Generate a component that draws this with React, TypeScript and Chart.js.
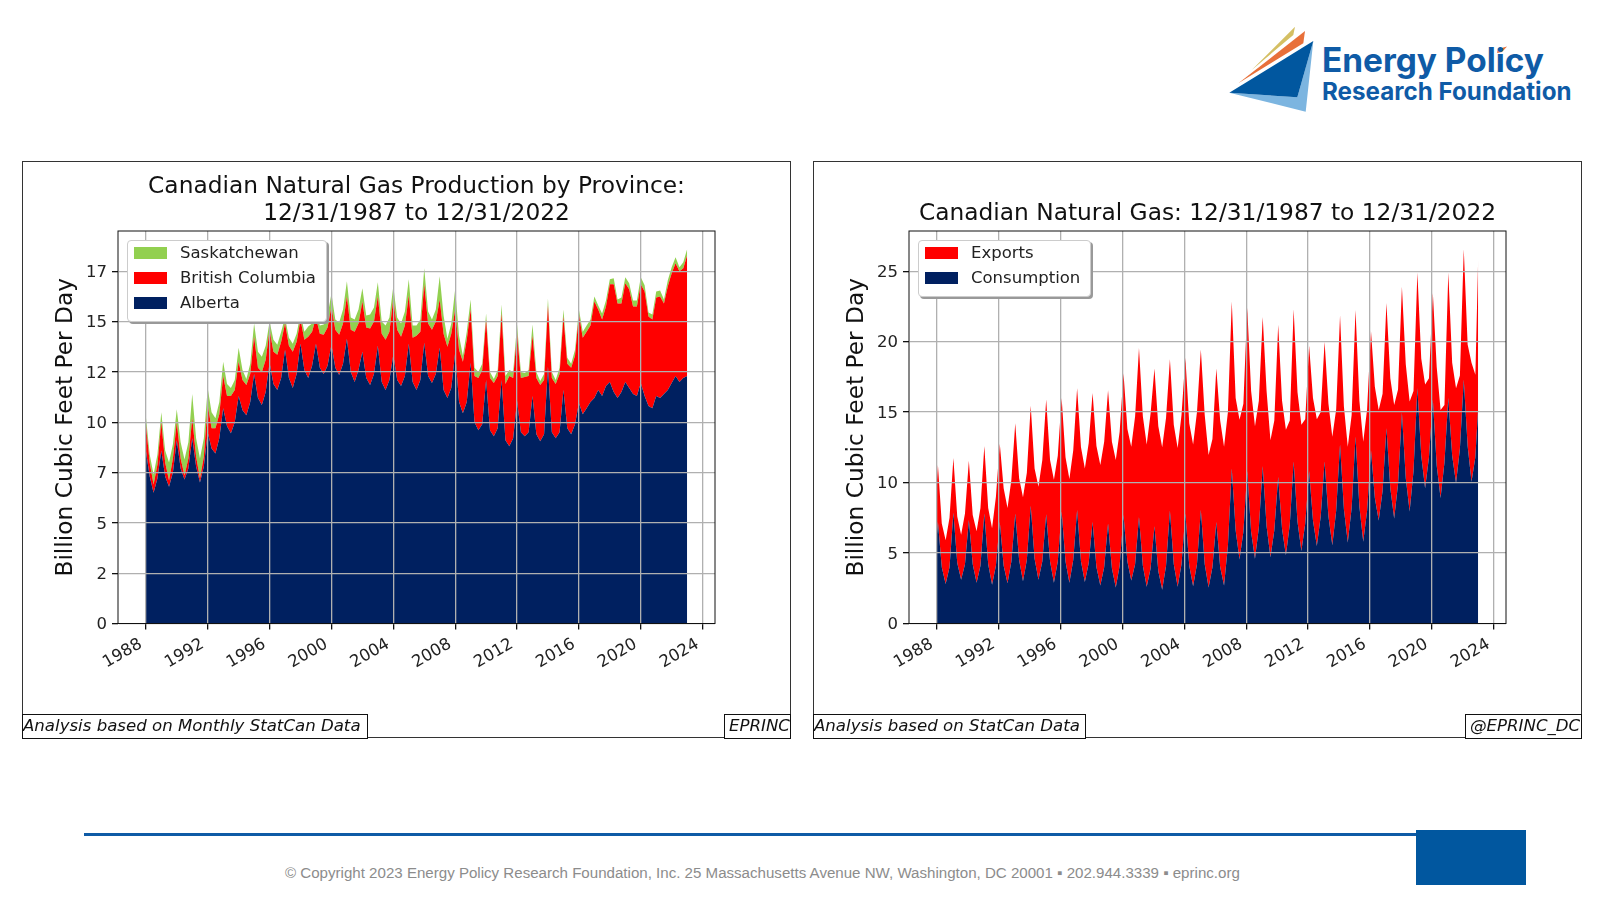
import { useEffect, useRef } from 'react';
import { Chart, registerables } from 'chart.js';

Chart.register(...registerables);

// quarterly readings, Jan / Apr / Jul / Oct, last value is Jan 2023
const quarters = Array.from({ length: 141 }, (_, i) => 1988 + i / 4);
// the gas panel's winter peaks sit a little after the year mark, and it opens at 1988.0
const gasQuarters = [1988, ...quarters.map((q) => Math.min(q + 0.07, 2023))];

const alberta = [
  8.6, 7.3, 6.5, 7.2, 8.6, 7.3, 6.8, 7.5, 9.1, 7.7, 7.15, 7.7, 9.2, 7.8, 7.0, 7.8,
  9.5, 8.7, 8.45, 9.2, 10.7, 9.8, 9.45, 10.0, 11.3, 10.6, 10.35, 11.0, 12.4, 11.2, 10.85, 11.5,
  12.95, 11.9, 11.6, 12.2, 13.6, 12.2, 11.7, 12.4, 13.9, 12.6, 12.2, 12.8, 13.9, 12.7, 12.4, 12.8,
  13.85, 12.7, 12.35, 12.9, 14.15, 12.5, 12.0, 12.6, 13.5, 12.2, 11.85, 12.4, 13.8, 12.0, 11.6, 12.1,
  13.35, 12.1, 11.8, 12.3, 13.9, 12.0, 11.6, 12.1, 13.95, 12.3, 11.95, 12.4, 13.7, 11.6, 11.2, 11.7,
  13.45, 11.0, 10.45, 11.0, 12.95, 10.0, 9.6, 9.9, 12.1, 9.6, 9.3, 9.7, 12.1, 9.1, 8.8, 9.2,
  11.05, 9.5, 9.3, 9.5, 11.3, 9.4, 9.05, 9.4, 12.75, 9.5, 9.2, 9.5, 11.6, 9.7, 9.4, 9.9,
  10.95, 10.4, 10.7, 11.0, 11.2, 11.6, 11.3, 11.8, 12.0, 11.5, 11.2, 11.5, 12.0, 11.7, 11.4, 11.3,
  11.95, 11.3, 10.8, 10.7, 11.3, 11.2, 11.4, 11.6, 11.95, 12.3, 12.0, 12.2, 12.3,
];
const britishColumbia = [
  1.3, 0.7, 0.4, 0.7, 1.4, 0.7, 0.3, 0.7, 0.9, 0.5, 0.2, 0.5, 1.0, 0.5, 0.2, 0.5,
  1.35, 1.0, 1.25, 1.2, 1.6, 1.5, 1.85, 1.6, 1.7, 1.5, 1.5, 1.4, 1.85, 1.5, 1.65, 1.6,
  1.65, 1.6, 1.75, 1.8, 1.3, 1.6, 1.8, 1.6, 1.2, 1.5, 2.05, 1.7, 1.3, 1.7, 1.95, 1.9,
  1.9, 1.9, 2.0, 2.0, 2.1, 2.1, 2.5, 2.3, 2.5, 2.5, 2.8, 2.6, 2.45, 2.4, 2.5, 2.4,
  2.8, 2.5, 2.45, 2.5, 2.4, 2.2, 2.7, 2.4, 2.9, 2.6, 2.65, 2.6, 2.4, 2.8, 2.55, 2.7,
  2.15, 2.6, 2.55, 3.1, 2.65, 2.3, 2.6, 2.7, 3.0, 2.6, 2.65, 2.6, 3.3, 2.8, 3.5, 3.0,
  3.35, 2.7, 2.95, 2.8, 3.0, 2.8, 2.8, 2.7, 3.05, 2.7, 2.7, 2.9, 3.65, 3.2, 3.3, 3.4,
  4.4, 3.8, 3.8, 3.8, 4.8, 4.0, 3.8, 3.95, 4.85, 5.35, 4.7, 4.4, 4.9, 4.9, 4.35, 4.45,
  4.9, 5.2, 4.45, 4.4, 4.9, 5.05, 4.5, 5.15, 5.45, 5.6, 5.5, 5.45, 6.0,
];
const saskatchewan = [
  0.4, 0.4, 0.5, 0.5, 0.5, 0.6, 0.9, 0.7, 0.65, 0.8, 0.8, 0.8, 1.2, 0.9, 1.0, 0.9,
  0.85, 0.8, 0.5, 0.6, 0.7, 0.6, 0.4, 0.5, 0.7, 0.5, 0.3, 0.5, 0.65, 0.8, 0.75, 0.7,
  0.4, 0.6, 0.5, 0.5, 0.3, 0.4, 0.4, 0.4, 0.3, 0.4, 0.5, 0.4, 0.3, 0.4, 0.5, 0.6,
  0.65, 0.5, 0.6, 0.7, 0.75, 0.6, 0.6, 0.7, 0.65, 0.6, 0.7, 0.7, 0.7, 0.6, 0.7, 0.7,
  0.6, 0.6, 0.65, 0.7, 0.8, 0.6, 0.5, 0.6, 0.8, 0.6, 0.5, 0.6, 1.15, 0.9, 0.4, 0.5,
  1.0, 0.7, 0.3, 0.4, 0.5, 0.4, 0.3, 0.3, 0.3, 0.3, 0.2, 0.3, 0.45, 0.4, 0.3, 0.3,
  0.45, 0.3, 0.2, 0.3, 0.55, 0.3, 0.2, 0.3, 0.35, 0.3, 0.2, 0.3, 0.35, 0.3, 0.2, 0.3,
  0.25, 0.3, 0.3, 0.3, 0.25, 0.2, 0.3, 0.3, 0.25, 0.3, 0.2, 0.3, 0.3, 0.3, 0.3, 0.3,
  0.35, 0.3, 0.2, 0.25, 0.3, 0.3, 0.2, 0.3, 0.3, 0.3, 0.2, 0.3, 0.3,
];

const consumption = [
  6.2, 7.2, 4.0, 2.8, 4.0, 7.85, 4.3, 3.1, 4.2, 7.35, 4.2, 2.9, 4.1, 7.8, 4.2, 2.75, 4.1,
  7.2, 4.1, 2.85, 4.4, 7.8, 4.5, 3.0, 4.5, 8.35, 4.6, 3.1, 4.4, 7.75, 4.4, 2.9, 4.4,
  7.95, 4.4, 2.9, 4.5, 8.05, 4.4, 2.95, 4.3, 7.2, 4.0, 2.7, 4.0, 7.1, 3.9, 2.55, 4.1,
  7.7, 4.4, 3.05, 4.2, 7.55, 4.1, 2.6, 3.9, 6.9, 3.7, 2.4, 4.1, 8.0, 4.2, 2.6, 4.2,
  7.8, 4.1, 2.65, 4.2, 8.05, 4.2, 2.55, 4.0, 7.2, 4.0, 2.7, 5.5, 11.0, 6.6, 4.55, 6.5,
  10.8, 6.5, 4.6, 6.8, 11.15, 6.9, 4.7, 6.6, 10.4, 6.7, 4.85, 7.0, 11.5, 7.2, 5.15, 7.1,
  10.8, 7.3, 5.5, 7.6, 11.5, 7.6, 5.55, 8.0, 12.7, 8.1, 5.75, 8.2, 13.25, 8.3, 5.8, 8.0,
  12.3, 8.9, 7.3, 9.4, 13.85, 9.6, 7.45, 9.9, 14.95, 10.3, 7.95, 10.8, 16.7, 11.9, 9.6, 11.8,
  15.9, 11.2, 8.9, 11.4, 16.0, 11.9, 9.95, 12.4, 17.3, 12.6, 10.05, 11.8, 15.3,
];
const exportsGas = [
  3.8, 4.05, 3.1, 3.1, 3.5, 3.9, 3.3, 3.2, 3.6, 4.2, 3.5, 3.65, 4.1, 4.8, 4.0, 4.0, 4.9,
  5.55, 5.5, 5.35, 5.8, 6.4, 5.8, 5.95, 6.2, 7.1, 6.4, 6.6, 7.2, 8.15, 7.2, 7.3, 7.5,
  8.05, 7.4, 7.35, 7.8, 8.65, 8.1, 8.05, 8.5, 9.15, 8.6, 8.55, 8.9, 9.45, 9.0, 9.05, 9.5,
  10.05, 9.4, 9.5, 10.5, 12.0, 10.6, 10.1, 11.0, 11.2, 10.3, 10.1, 10.5, 10.75, 9.9, 9.85, 10.6,
  11.05, 10.1, 10.05, 10.8, 11.4, 10.6, 9.4, 9.1, 10.9, 10.4, 9.85, 9.5, 11.85, 9.4, 9.9, 9.1,
  11.6, 10.0, 9.4, 9.0, 10.6, 9.6, 8.3, 7.8, 10.8, 9.1, 8.9, 7.4, 10.8, 9.2, 8.95, 7.4,
  8.9, 8.7, 9.0, 7.4, 8.5, 8.0, 7.7, 7.2, 9.15, 7.3, 6.8, 6.6, 9.0, 7.5, 7.1, 7.2,
  8.45, 7.9, 7.85, 6.9, 8.9, 7.8, 8.05, 6.7, 8.95, 8.1, 7.8, 5.7, 8.2, 6.9, 7.35, 5.6,
  7.55, 7.0, 6.25, 4.1, 8.9, 6.6, 6.75, 5.2, 9.25, 7.2, 8.45, 5.85, 10.55,
];

const provinceTickLabels = ['0', '2', '5', '7', '10', '12', '15', '17'];
const gasTickLabels = ['0', '5', '10', '15', '20', '25'];

const NAVY = '#002060';
const RED = '#ff0000';
const GREEN = '#92d050';
const BLUE = '#0f5ba6';
const DEJAVU = '"DejaVu Sans", sans-serif';

type Series = { label: string; values: number[]; color: string };

const provinceSeries: Series[] = [
  { label: 'Alberta', values: alberta, color: NAVY },
  { label: 'British Columbia', values: britishColumbia, color: RED },
  { label: 'Saskatchewan', values: saskatchewan, color: GREEN },
];
const gasSeries: Series[] = [
  { label: 'Consumption', values: consumption, color: NAVY },
  { label: 'Exports', values: exportsGas, color: RED },
];

// matplotlib style box around the axes
const axesFrame = {
  id: 'axesFrame',
  afterDraw(chart: Chart) {
    const { ctx, chartArea: a } = chart;
    ctx.save();
    ctx.strokeStyle = '#111';
    ctx.lineWidth = 1;
    ctx.strokeRect(a.left, a.top, a.right - a.left, a.bottom - a.top);
    ctx.restore();
  },
};

interface PanelProps {
  left: number;
  title: string[];
  dates: number[];
  series: Series[];
  yMax: number;
  yStep: number;
  yLabels: string[];
  legendWidth: number;
  footLeft: string;
  footLeftWidth: number;
  footRight: string;
  footRightWidth: number;
}

function Panel(props: PanelProps) {
  const { left, title, dates, series, yMax, yStep, yLabels } = props;
  const canvasRef = useRef<HTMLCanvasElement>(null);

  useEffect(() => {
    if (!canvasRef.current) return;
    const chart = new Chart(canvasRef.current, {
      type: 'line',
      data: {
        datasets: series.map((s, i) => ({
          label: s.label,
          data: s.values.map((y, k) => ({ x: dates[k], y })),
          backgroundColor: s.color,
          borderWidth: 0,
          pointRadius: 0,
          fill: i === 0 ? 'origin' : '-1',
        })),
      },
      plugins: [axesFrame],
      options: {
        responsive: false,
        animation: false,
        layout: { padding: { left: 0, right: 75, top: 0, bottom: 0 } },
        plugins: {
          legend: { display: false },
          tooltip: { enabled: false },
          title: {
            display: true,
            fullSize: false,
            text: title,
            color: '#111',
            font: { family: DEJAVU, size: 23.3, weight: 'normal', lineHeight: 27 / 23.3 },
            padding: title.length > 1 ? { top: 12, bottom: 4 } : { top: 39, bottom: 4 },
          },
        },
        scales: {
          x: {
            type: 'linear',
            min: 1986.2,
            max: 2024.8,
            afterFit: (s: any) => { s.height = 114.5; },
            grid: { color: '#b0b0b0', lineWidth: 1.3, z: 1, tickColor: '#111', tickLength: 6 },
            border: { color: '#111' },
            ticks: {
              stepSize: 4,
              includeBounds: false,
              autoSkip: false,
              minRotation: 30,
              maxRotation: 30,
              padding: 5,
              labelOffset: -5,
              color: '#222',
              font: { family: DEJAVU, size: 16.5 },
              callback: (v: any) => String(v),
            },
          },
          y: {
            stacked: true,
            min: 0,
            max: yMax,
            afterFit: (s: any) => { s.width = 96; },
            grid: { color: '#b0b0b0', lineWidth: 1.3, z: 1, tickColor: '#111', tickLength: 6 },
            border: { color: '#111' },
            title: {
              display: true,
              text: 'Billion Cubic Feet Per Day',
              color: '#111',
              font: { family: DEJAVU, size: 23.3 },
              padding: { top: 30, bottom: 0 },
            },
            ticks: {
              stepSize: yStep,
              autoSkip: false,
              padding: 5,
              labelOffset: 1.5,
              color: '#222',
              font: { family: DEJAVU, size: 16.5 },
              callback: (v: any) => yLabels[Math.round(Number(v) / yStep)],
            },
          },
        },
      },
    } as any);
    return () => chart.destroy();
  }, []);

  const foot = {
    position: 'absolute' as const,
    bottom: -1,
    height: 25,
    boxSizing: 'border-box' as const,
    border: '1px solid #111',
    background: '#fff',
    font: `italic 16.6px ${DEJAVU}`,
    lineHeight: '22px',
    color: '#111',
    whiteSpace: 'nowrap' as const,
    overflow: 'hidden',
  };

  return (
    <div style={{ position: 'absolute', left, top: 161, width: 769, height: 577, boxSizing: 'border-box', outline: '1px solid #333', outlineOffset: -1 }}>
      <canvas ref={canvasRef} width={768} height={577} style={{ display: 'block' }} />
      <div
        style={{
          position: 'absolute', left: 105, top: 79, width: props.legendWidth, boxSizing: 'border-box',
          padding: '0 0 5px 0', background: '#fff', border: '1px solid #ccc', borderRadius: 4,
          boxShadow: '2px 2px 0 #999',
        }}
      >
        {[...series].reverse().map((s) => (
          <div key={s.label} style={{ height: 25, position: 'relative', font: `16.5px ${DEJAVU}`, color: '#222', lineHeight: '23px' }}>
            <span style={{ position: 'absolute', left: 6, top: 6, width: 33, height: 12, background: s.color }} />
            <span style={{ position: 'absolute', left: 52, top: 0, whiteSpace: 'nowrap' }}>{s.label}</span>
          </div>
        ))}
      </div>
      <div style={{ ...foot, left: 0, width: props.footLeftWidth }}>{props.footLeft}</div>
      <div style={{ ...foot, right: 0, width: props.footRightWidth, paddingLeft: 4 }}>{props.footRight}</div>
    </div>
  );
}

function Logo() {
  return (
    <>
      <svg width={1600} height={130} style={{ position: 'absolute', left: 0, top: 0 }}>
        <polygon points="1229.3,92.7 1297.3,97.3 1313.3,41 1305.7,111.7" fill="#7cb5e0" />
        <polygon points="1229.3,92.7 1313.3,41 1297.3,97.3" fill="#01579f" />
        <polygon points="1238.3,83.3 1305,31 1303.3,43.3" fill="#e8703a" />
        <polygon points="1251.7,70 1295,26.7 1293.3,35" fill="#d4bf63" />
        <polygon points="1498,49 1507,46.5 1502,52 1497,53" fill="#e8703a" />
      </svg>
      <div style={{ position: 'absolute', left: 1322, top: 40, font: '700 33.4px Inter, sans-serif', color: BLUE, whiteSpace: 'nowrap' }}>Energy Policy</div>
      <div style={{ position: 'absolute', left: 1322, top: 77, font: '700 24.2px Inter, sans-serif', color: BLUE, whiteSpace: 'nowrap' }}>Research Foundation</div>
    </>
  );
}

export default function App() {
  return (
    <div style={{ position: 'absolute', left: 0, top: 0, width: 1600, height: 900, background: '#fff', overflow: 'hidden' }}>
      <Logo />
      <Panel
        left={22}
        title={['Canadian Natural Gas Production by Province:', '12/31/1987 to 12/31/2022']}
        dates={quarters}
        series={provinceSeries}
        yMax={19.5}
        yStep={2.5}
        yLabels={provinceTickLabels}
        legendWidth={200}
        footLeft="Analysis based on Monthly StatCan Data"
        footLeftWidth={346}
        footRight="EPRINC"
        footRightWidth={67}
      />
      <Panel
        left={813}
        title={['Canadian Natural Gas: 12/31/1987 to 12/31/2022']}
        dates={gasQuarters}
        series={gasSeries}
        yMax={27.85}
        yStep={5}
        yLabels={gasTickLabels}
        legendWidth={173}
        footLeft="Analysis based on StatCan Data"
        footLeftWidth={273}
        footRight="@EPRINC_DC"
        footRightWidth={117}
      />
      <div style={{ position: 'absolute', left: 84, top: 833, width: 1334, height: 3, background: '#0f5ba6' }} />
      <div style={{ position: 'absolute', left: 1416, top: 830, width: 110, height: 55, background: '#01579f' }} />
      <div style={{ position: 'absolute', left: 285, top: 864, font: '15.1px "Liberation Sans", sans-serif', color: '#8c8c8c', whiteSpace: 'nowrap' }}>
        © Copyright 2023 Energy Policy Research Foundation, Inc. 25 Massachusetts Avenue NW, Washington, DC 20001 ▪ 202.944.3339 ▪ eprinc.org
      </div>
    </div>
  );
}
